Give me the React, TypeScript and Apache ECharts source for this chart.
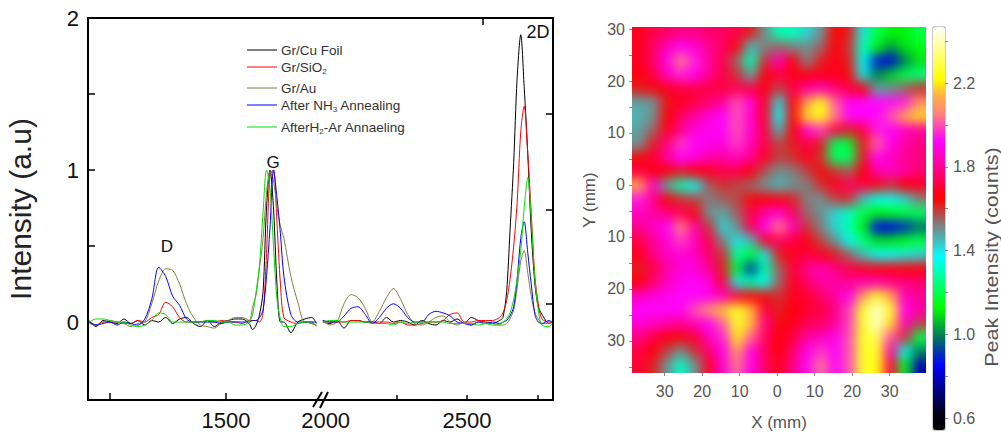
import React, { useEffect, useRef } from "react";
import * as echarts from "echarts";

const FONT = "Liberation Sans";

// ---------- spectra ----------
const seriesNames = ["Gr/Cu Foil", "Gr/SiO2", "Gr/Au", "After NH3 Annealing", "AfterH2-Ar Annaeling"];
const seriesColors = ["#000000", "#ff0000", "#808040", "#0000ff", "#00e000"];

const shiftLow = [910,940,970,1000,1030,1060,1090,1120,1150,1180,1210,1240,1270,1300,1330,1360,1390,1420,1450,1480,1510,1540,1570,1600,1615,1630,1645,1660,1675,1690,1705,1720,1735,1750,1780,1810,1840,1870,1890];
const shiftHigh = [1990,2015,2040,2065,2090,2115,2140,2165,2190,2215,2240,2265,2290,2315,2340,2365,2390,2415,2440,2465,2490,2515,2540,2565,2590,2615,2627,2640,2652,2665,2677,2690,2702,2715,2727,2740,2752,2765,2790,2800];

const cuLow = [.01,-.03,.01,0,-.01,.02,-.01,.01,-.02,.01,0,.03,-.01,.02,.03,-.01,-.03,.01,-.03,0,.01,.02,.02,-.01,-.05,-.02,.05,.2,.75,1,.75,.25,0,0,-.07,0,.02,.03,-.01];
const siLow = [0,-.02,0,0,0,-.01,-.01,.01,0,.03,.05,.13,.1,.03,0,0,0,.01,0,.01,0,0,-.01,.01,.01,.01,0,.06,.45,.97,1,.65,.25,.03,0,-.01,0,-.01,-.02];
const auLow = [-.01,-.02,0,.01,0,-.01,-.03,-.01,0,.12,.27,.35,.34,.25,.12,.03,-.02,-.03,-.04,-.01,.01,.03,.03,.01,.1,.18,.36,.55,.85,.99,.93,.75,.63,.55,.3,.13,0,0,-.03];
const nhLow = [0,-.02,-.01,0,-.02,0,-.01,-.02,.02,.15,.36,.3,.17,.11,.02,0,0,0,0,-.01,0,0,0,0,.01,.01,.03,.08,.3,.62,1,.82,.58,.3,.05,0,0,0,0];
const arLow = [0,.02,.02,.01,0,0,-.02,-.03,-.02,.01,.06,.05,0,0,0,0,0,.01,.01,0,0,-.02,-.02,0,.05,.2,.38,.72,1,.88,.5,.15,.02,-.03,-.03,-.01,0,-.01,-.02];

const cuHigh = [0,-.01,.01,-.04,.01,.01,0,0,-.01,.03,0,.01,0,-.02,.01,-.01,-.02,.01,0,.02,-.01,.03,.01,0,-.01,.01,.03,.2,.6,1.05,1.6,1.89,1.55,1.1,.6,.25,.1,.05,-.01,0];
const siHigh = [.01,0,0,0,.01,.01,0,0,0,0,-.01,0,-.02,-.02,-.01,0,0,.01,.05,.06,0,0,.01,.01,.01,.03,.06,.14,.28,.5,.78,1.25,1.42,1.1,.72,.3,.12,.02,0,0];
const auHigh = [.01,-.02,0,.12,.18,.16,.09,0,.07,.16,.22,.15,.05,-.01,-.02,0,.03,.04,0,-.02,0,-.02,0,0,-.01,-.02,-.02,-.01,.02,.08,.22,.4,.47,.32,.17,.06,.02,-.01,-.01,0];
const nhHigh = [.01,0,0,.04,.09,.1,.05,-.01,.03,.09,.12,.09,.03,0,0,.05,.07,.06,.04,0,-.01,-.02,0,-.01,0,-.01,0,.01,.04,.1,.28,.55,.66,.45,.25,.05,0,-.01,.01,0];
const arHigh = [0,.01,.01,0,0,0,0,-.01,-.01,-.01,-.02,0,-.01,0,0,0,0,0,-.01,-.01,-.01,-.01,-.02,-.01,-.02,-.02,0,.02,.06,.15,.28,.47,.75,.95,.68,.28,.08,-.02,-.03,-.01];

const lowSets = [cuLow, siLow, auLow, nhLow, arLow];
const highSets = [cuHigh, siHigh, auHigh, nhHigh, arHigh];

const yLabelValues = [0, 1, 2];
const yTickValues = [0.5, 1, 1.5];
const rightTickValues = [0.12, 0.74, 1.37];
const lowLabelValues = [1500];
const lowTickValues = [1000, 1500];
const highLabelValues = [2000, 2500];
const highTickValues = [2250, 2500, 2750];
const topTickValues = [2557];

// ---------- map: peak intensity read cell by cell, top row first ----------
const mapRows = [
[1.68,1.72,1.75,1.78,1.78,1.76,1.75,1.72,1.62,1.50,1.30,1.30,1.42,1.50,1.65,1.62,1.40,1.20,1.12,1.12,1.20],
[1.68,1.75,1.85,1.92,1.88,1.80,1.75,1.64,1.45,1.52,1.55,1.52,1.50,1.55,1.66,1.60,1.32,1.12,1.02,1.10,1.15],
[1.68,1.75,1.90,2.05,1.95,1.82,1.72,1.55,1.30,1.60,1.85,1.66,1.52,1.62,1.68,1.62,1.35,0.88,0.82,1.00,1.10],
[1.66,1.72,1.85,1.95,1.90,1.80,1.72,1.60,1.48,1.66,1.72,1.68,1.66,1.68,1.68,1.64,1.40,1.00,1.08,1.20,1.25],
[1.62,1.64,1.68,1.72,1.72,1.72,1.72,1.74,1.72,1.68,1.58,1.72,1.82,1.85,1.78,1.72,1.65,1.48,1.50,1.55,1.60],
[1.48,1.50,1.63,1.68,1.72,1.76,1.82,2.00,1.88,1.68,1.42,1.66,2.10,2.24,2.02,1.90,1.92,1.92,1.93,1.95,2.08],
[1.46,1.50,1.65,1.75,1.82,1.88,1.92,2.00,1.88,1.68,1.38,1.66,2.18,2.24,2.05,1.92,1.92,1.92,2.00,2.12,2.18],
[1.48,1.55,1.68,1.80,1.88,1.90,1.92,2.00,1.88,1.70,1.46,1.65,1.88,1.98,1.72,1.62,1.72,1.95,1.92,1.85,1.82],
[1.50,1.62,1.78,1.98,1.92,1.90,1.88,1.98,1.85,1.72,1.58,1.62,1.72,1.62,1.22,1.18,1.62,2.02,1.90,1.82,1.78],
[1.64,1.70,1.82,1.92,1.88,1.82,1.82,1.85,1.80,1.68,1.58,1.60,1.68,1.60,1.22,1.22,1.62,1.92,1.85,1.80,1.78],
[1.72,1.68,1.65,1.62,1.65,1.68,1.72,1.72,1.66,1.56,1.50,1.52,1.58,1.64,1.60,1.56,1.66,1.82,1.85,1.82,1.76],
[2.12,1.85,1.48,1.30,1.38,1.56,1.60,1.58,1.55,1.50,1.46,1.50,1.52,1.60,1.68,1.74,1.72,1.64,1.60,1.65,1.68],
[1.95,1.80,1.65,1.60,1.58,1.52,1.55,1.58,1.64,1.66,1.66,1.62,1.52,1.50,1.58,1.60,1.45,1.35,1.38,1.42,1.52],
[1.85,1.82,1.78,1.74,1.66,1.50,1.48,1.55,1.72,1.82,1.88,1.75,1.55,1.50,1.42,1.32,1.20,1.12,1.15,1.18,1.22],
[1.80,1.85,1.92,2.05,1.82,1.60,1.42,1.50,1.72,1.92,2.05,1.85,1.60,1.52,1.42,1.30,1.12,0.84,0.82,0.90,0.98],
[1.72,1.80,1.88,1.98,1.85,1.72,1.52,1.40,1.45,1.68,1.75,1.72,1.66,1.58,1.50,1.38,1.25,1.10,1.10,1.15,1.20],
[1.68,1.78,1.85,1.88,1.85,1.76,1.60,1.28,1.18,1.40,1.62,1.68,1.72,1.68,1.62,1.55,1.45,1.38,1.38,1.40,1.42],
[1.62,1.72,1.82,1.88,1.88,1.80,1.62,1.18,0.92,1.28,1.55,1.70,1.80,1.84,1.78,1.72,1.68,1.66,1.66,1.66,1.66],
[1.66,1.76,1.85,1.90,1.92,1.88,1.70,1.40,1.28,1.36,1.55,1.68,1.75,1.82,1.82,1.80,1.84,1.84,1.80,1.78,1.76],
[1.85,1.88,1.90,1.92,1.92,1.90,1.85,1.70,1.66,1.64,1.60,1.68,1.70,1.75,1.82,1.90,2.10,2.26,2.12,1.85,1.80],
[1.92,1.92,1.92,1.92,2.00,2.08,2.16,2.26,2.15,1.72,1.62,1.66,1.70,1.72,1.78,1.98,2.26,2.42,2.26,1.90,1.82],
[1.88,1.85,1.82,1.80,1.85,1.92,2.02,2.26,2.15,1.80,1.64,1.68,1.74,1.75,1.82,1.98,2.26,2.42,2.18,1.85,1.58],
[1.78,1.72,1.66,1.64,1.70,1.85,1.95,2.20,2.02,1.75,1.66,1.72,1.82,1.85,1.90,2.00,2.26,2.30,2.00,1.60,1.20],
[1.72,1.66,1.58,1.50,1.60,1.76,1.90,2.10,1.90,1.75,1.66,1.76,1.90,1.98,1.92,2.00,2.26,2.26,1.82,1.35,1.00],
[1.70,1.62,1.50,1.32,1.50,1.68,1.88,2.04,1.90,1.75,1.68,1.78,1.92,2.04,1.92,2.00,2.26,2.24,1.72,1.15,0.78],
];
const mapMin = 0.543;
const mapMax = 2.468;
const stopValues = [0.54,0.62,0.85,0.98,1.13,1.37,1.52,1.65,1.78,1.92,2.05,2.14,2.22,2.47];
const stopColors = ["#000000","#000014","#0000ff","#007060","#00ff00","#00ffff","#808080","#ff0000","#ff0080","#ff00ff","#ff8080","#ffb040","#ffff00","#ffffff"];
const barLabelValues = [0.6, 1.0, 1.4, 1.8, 2.2];
const barTickValues = [0.6,0.8,1.0,1.2,1.4,1.6,1.8,2.0,2.2,2.4];
const mapXLabels = [-30,-20,-10,0,10,20,30];
const mapYLabels = [30,20,10,0,-10,-20,-30];
const mapXTicks = [-30,-20,-10,0,10,20,30];
const mapYTicks = [30,25,20,15,10,5,0,-5,-10,-15,-20,-25,-30,-35];

function hex(c: string) { return [1, 3, 5].map((i) => parseInt(c.slice(i, i + 2), 16)); }
function rampColors() {
  const out: string[] = [];
  const n = 120;
  for (let k = 0; k <= n; k++) {
    const v = mapMin + ((mapMax - mapMin) * k) / n;
    let i = 0;
    while (i < stopValues.length - 2 && v > stopValues[i + 1]) i++;
    const t = Math.min(1, Math.max(0, (v - stopValues[i]) / (stopValues[i + 1] - stopValues[i])));
    const a = hex(stopColors[i]), b = hex(stopColors[i + 1]);
    out.push(`rgb(${a.map((x, j) => Math.round(x + (b[j] - x) * t)).join(",")})`);
  }
  return out;
}

const PAD = 3;
const CELL_W = 294 / 21;
const CELL_H = 346 / 25;

function heatOption() {
  const rows = mapRows.length, cols = mapRows[0].length;
  const xs: number[] = [], ys: number[] = [];
  for (let i = -PAD; i < cols + PAD; i++) xs.push(i);
  for (let j = -PAD; j < rows + PAD; j++) ys.push(j);
  const data: number[][] = [];
  ys.forEach((_, yi) => xs.forEach((_, xi) => {
    const r = Math.min(rows - 1, Math.max(0, yi - PAD));
    const c = Math.min(cols - 1, Math.max(0, xi - PAD));
    data.push([xi, yi, mapRows[r][c]]);
  }));
  return {
    animation: false,
    grid: { left: 0, right: 0, top: 0, bottom: 0 },
    xAxis: { type: "category", data: xs, show: false },
    yAxis: { type: "category", data: ys, show: false, inverse: true },
    visualMap: { show: false, min: mapMin, max: mapMax, inRange: { color: rampColors() } },
    series: [{ type: "heatmap", data, progressive: 0, itemStyle: { borderWidth: 0 } }],
  };
}

function mainOption() {
  const thick = { onZero: false, lineStyle: { color: "#000", width: 2 } };
  const noLine = { show: false, onZero: false };
  const tick = (vals: number[], inside = true, length = 7) => ({
    show: true, inside, length, customValues: vals, lineStyle: { color: "#000", width: 1.5 },
  });
  const noLabel = { show: false };
  const digits = { fontFamily: FONT, fontSize: 22, color: "#111" };
  const mapText = { fontFamily: FONT, fontSize: 16, color: "#555" };
  const series: any[] = [];
  seriesNames.forEach((name, i) => {
    series.push({
      name, type: "line", xAxisIndex: 0, yAxisIndex: 0, showSymbol: false, smooth: 0.3,
      data: shiftLow.map((x, k) => [x, lowSets[i][k]]),
      lineStyle: { color: seriesColors[i], width: 1 },
    });
    series.push({
      name, type: "line", xAxisIndex: 2, yAxisIndex: 1, showSymbol: false, smooth: 0.3,
      data: shiftHigh.map((x, k) => [x, highSets[i][k]]),
      lineStyle: { color: seriesColors[i], width: 1 },
    });
  });
  series.push({ type: "scatter", xAxisIndex: 5, yAxisIndex: 3, data: [] });

  const legendY = [50, 67, 88, 105, 127];
  const legendLabels = [
    "{a|Gr/Cu Foil}",
    "{a|Gr/SiO}{s|2}",
    "{a|Gr/Au}",
    "{a|After NH}{s|3}{a| Annealing}",
    "{a|AfterH}{s|2}{a|-Ar Annaeling}",
  ];
  const richText = {
    a: { fontFamily: FONT, fontSize: 13.5, fill: "#333", color: "#333" },
    s: { fontFamily: FONT, fontSize: 8, fill: "#333", color: "#333", padding: [8, 0, 0, 0] },
  };
  const graphic: any[] = [];
  legendY.forEach((y, i) => {
    graphic.push({ type: "line", shape: { x1: 247, y1: y, x2: 277, y2: y }, style: { stroke: seriesColors[i], lineWidth: 1 } });
    graphic.push({ type: "text", x: 281, y, style: { text: legendLabels[i], rich: richText, verticalAlign: "middle", align: "left" } });
  });
  [["D", 167, 246, 17], ["G", 273, 162, 17], ["2D", 538, 32, 18]].forEach(([t, x, y, s]) => {
    graphic.push({ type: "text", x, y, style: { text: t, fontFamily: FONT, fontSize: s, fill: "#111", align: "center", verticalAlign: "middle" } });
  });
  [[313, 407, 322, 392], [320, 408, 328, 392]].forEach(([x1, y1, x2, y2]) => {
    graphic.push({ type: "line", shape: { x1, y1, x2, y2 }, style: { stroke: "#000", lineWidth: 2 } });
  });
  graphic.push({
    type: "text", x: 992, y: 257, rotation: Math.PI / 2, scaleX: 1.2,
    style: { text: "Peak Intensity (counts)", fontFamily: FONT, fontSize: 18, fill: "#555", align: "center", verticalAlign: "middle" },
  });

  const lowRange = { min: 905, max: 1897 };
  const highRange = { min: 1973, max: 2804 };
  const yRange = { min: -0.513, max: 2 };

  return {
    animation: false,
    grid: [
      { left: 88, width: 230, top: 18, height: 382 },
      { left: 318, width: 235, top: 18, height: 382 },
      { left: 632, width: 294, top: 27, height: 346 },
      { left: 933, width: 12, top: 27, height: 403, show: true, borderColor: "#999", borderWidth: 1 },
    ],
    xAxis: [
      { type: "value", gridIndex: 0, ...lowRange, position: "bottom", axisLine: thick, axisTick: tick(lowTickValues), axisLabel: { ...digits, margin: 9, customValues: lowLabelValues, formatter: (v: number) => String(v) }, splitLine: { show: false } },
      { type: "value", gridIndex: 0, ...lowRange, position: "top", axisLine: thick, axisTick: { show: false }, axisLabel: noLabel, splitLine: { show: false } },
      { type: "value", gridIndex: 1, ...highRange, position: "bottom", axisLine: thick, axisTick: tick(highTickValues, true, 5), axisLabel: { ...digits, margin: 9, customValues: highLabelValues, formatter: (v: number) => String(v) }, splitLine: { show: false } },
      { type: "value", gridIndex: 1, ...highRange, position: "top", axisLine: thick, axisTick: tick(topTickValues), axisLabel: noLabel, splitLine: { show: false } },
      { type: "value", gridIndex: 2, min: -38.7, max: 39.7, position: "bottom", axisLine: noLine, axisTick: { show: true, length: 3, customValues: mapXTicks, lineStyle: { color: "#888" } }, axisLabel: { ...mapText, margin: 10, customValues: mapXLabels, formatter: (v: number) => String(Math.abs(v)) }, splitLine: { show: false },
        name: "X (mm)", nameLocation: "middle", nameGap: 41, nameTextStyle: { fontFamily: FONT, fontSize: 17, color: "#555" } },
      { type: "value", gridIndex: 3, min: 0, max: 1, show: false },
    ],
    yAxis: [
      { type: "value", gridIndex: 0, ...yRange, position: "left", axisLine: thick, axisTick: tick(yTickValues, true, 7), axisLabel: { ...digits, margin: 9, customValues: yLabelValues, formatter: (v: number) => String(v) }, splitLine: { show: false },
        name: "Intensity (a.u)", nameLocation: "middle", nameGap: 53, nameTextStyle: { fontFamily: FONT, fontSize: 30, color: "#222" } },
      { type: "value", gridIndex: 1, ...yRange, position: "right", axisLine: thick, axisTick: tick(rightTickValues, true, 7), axisLabel: noLabel, splitLine: { show: false } },
      { type: "value", gridIndex: 2, min: -36.2, max: 30.4, position: "left", axisLine: noLine, axisTick: { show: true, length: 3, customValues: mapYTicks, lineStyle: { color: "#888" } }, axisLabel: { ...mapText, margin: 7, customValues: mapYLabels, formatter: (v: number) => String(Math.abs(v)) }, splitLine: { show: false },
        name: "Y (mm)", nameLocation: "middle", nameGap: 34, nameTextStyle: { fontFamily: FONT, fontSize: 17, color: "#555" } },
      { type: "value", gridIndex: 3, min: mapMin, max: mapMax, position: "right", axisLine: noLine, axisTick: { show: true, length: 3, customValues: barTickValues, lineStyle: { color: "#888" } }, axisLabel: { ...mapText, margin: 8, customValues: barLabelValues, formatter: (v: number) => v.toFixed(1) }, splitLine: { show: false } },
    ],
    visualMap: {
      show: true, type: "continuous", min: mapMin, max: mapMax, seriesIndex: series.length - 1,
      left: 933, top: 27, itemWidth: 12, itemHeight: 403, padding: 0, calculable: false, hoverLink: false,
      inRange: { color: rampColors() },
    },
    series,
    graphic,
  };
}

export default function App() {
  const mainRef = useRef<HTMLDivElement>(null);
  const heatRef = useRef<HTMLDivElement>(null);
  useEffect(() => {
    const heat = echarts.init(heatRef.current!, undefined, { renderer: "svg" });
    heat.setOption(heatOption());
    const main = echarts.init(mainRef.current!, undefined, { renderer: "svg" });
    main.setOption(mainOption());
    return () => { heat.dispose(); main.dispose(); };
  }, []);
  return (
    <div style={{ position: "absolute", left: 0, top: 0, width: 1001, height: 437, background: "#fff", overflow: "hidden" }}>
      <div style={{ position: "absolute", left: 632, top: 27, width: 294, height: 346, overflow: "hidden" }}>
        <div ref={heatRef} style={{ position: "absolute", left: -PAD * CELL_W, top: -PAD * CELL_H, width: (21 + 2 * PAD) * CELL_W, height: (25 + 2 * PAD) * CELL_H, filter: "blur(6px)" }} />
      </div>
      <div ref={mainRef} style={{ position: "absolute", left: 0, top: 0, width: 1001, height: 437 }} />
    </div>
  );
}
